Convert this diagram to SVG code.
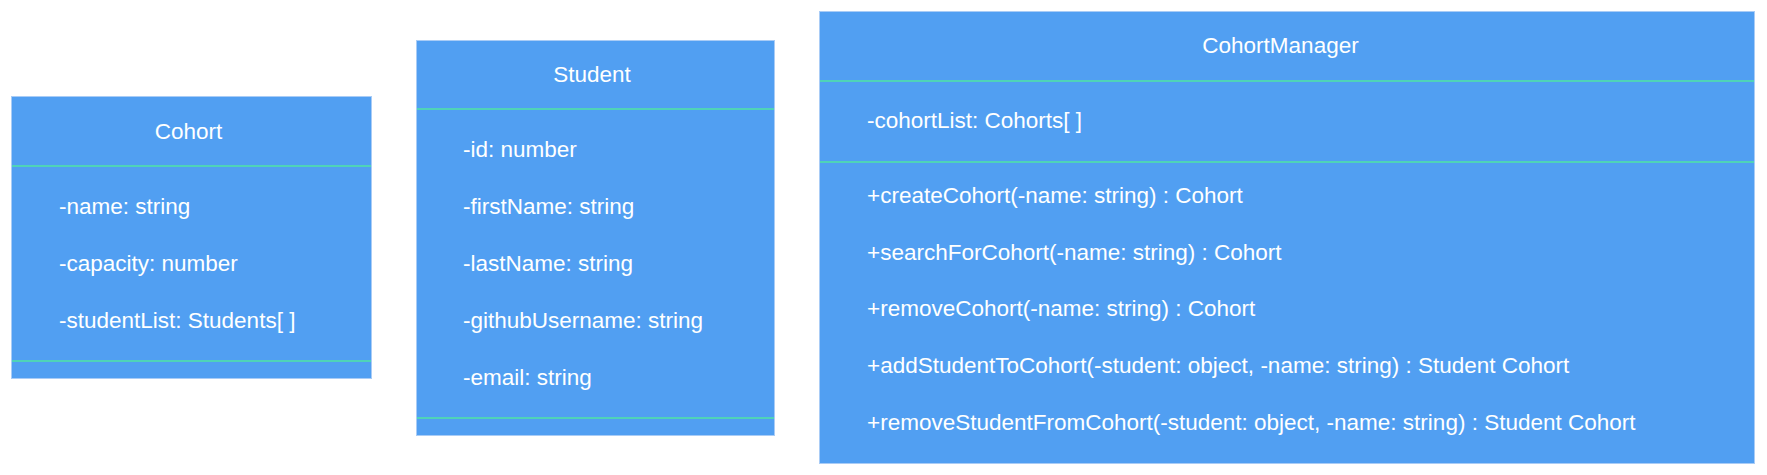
<svg xmlns="http://www.w3.org/2000/svg" width="1767" height="475" viewBox="0 0 1767 475">
<style>
.box{fill:#519FF2;stroke:#A9CCF6;stroke-width:1}
.div{stroke:#4FD3B8;stroke-width:2}
text{font-family:"Liberation Sans",Arial,sans-serif;font-size:22.5px;fill:#FFFFFF}
.t{text-anchor:middle}
</style>
<rect width="1767" height="475" fill="#FFFFFF"/>
<g id="cohort">
<rect class="box" x="11.5" y="96.5" width="360" height="282"/>
<line class="div" x1="12" y1="166" x2="371" y2="166"/>
<line class="div" x1="12" y1="361" x2="371" y2="361"/>
<text class="t" x="188.5" y="139">Cohort</text>
<text x="59" y="214">-name: string</text>
<text x="59" y="271">-capacity: number</text>
<text x="59" y="328">-studentList: Students[ ]</text>
</g>
<g id="student">
<rect class="box" x="416.5" y="40.5" width="358" height="395"/>
<line class="div" x1="417" y1="109" x2="774" y2="109"/>
<line class="div" x1="417" y1="418" x2="774" y2="418"/>
<text class="t" x="592" y="82">Student</text>
<text x="463" y="157">-id: number</text>
<text x="463" y="214">-firstName: string</text>
<text x="463" y="271">-lastName: string</text>
<text x="463" y="328">-githubUsername: string</text>
<text x="463" y="385">-email: string</text>
</g>
<g id="cohortManager">
<rect class="box" x="819.5" y="11.5" width="935" height="452"/>
<line class="div" x1="820" y1="81" x2="1754" y2="81"/>
<line class="div" x1="820" y1="162" x2="1754" y2="162"/>
<text class="t" x="1280.5" y="53">CohortManager</text>
<text x="867" y="128">-cohortList: Cohorts[ ]</text>
<text x="867" y="203">+createCohort(-name: string) : Cohort</text>
<text x="867" y="260">+searchForCohort(-name: string) : Cohort</text>
<text x="867" y="316">+removeCohort(-name: string) : Cohort</text>
<text x="867" y="373">+addStudentToCohort(-student: object, -name: string) : Student Cohort</text>
<text x="867" y="430">+removeStudentFromCohort(-student: object, -name: string) : Student Cohort</text>
</g>
<g id="connectors"></g>
</svg>
